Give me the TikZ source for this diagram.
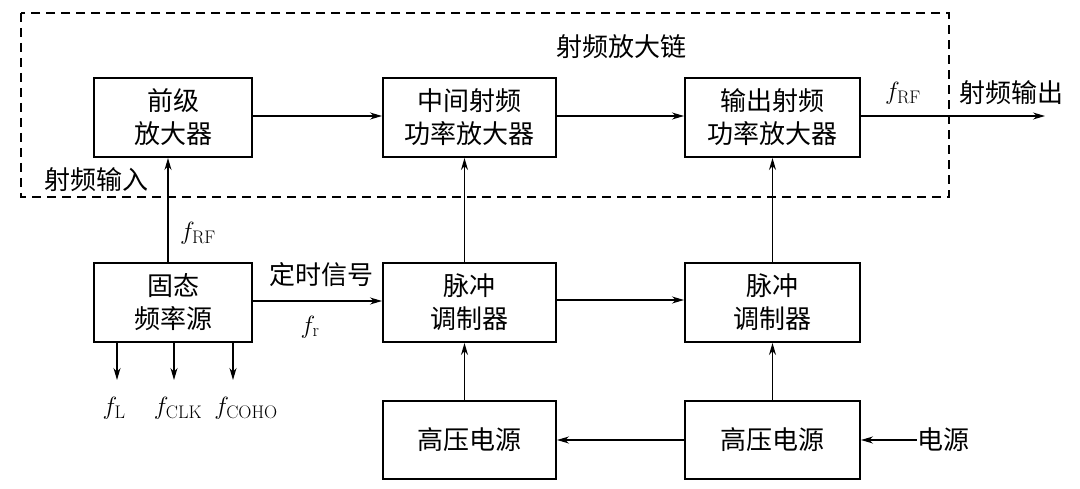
\documentclass[tikz,border=0pt]{standalone}
\usepackage{fontspec}
\newfontfamily\cjk{Noto Sans CJK SC}
\usetikzlibrary{arrows.meta}
\tikzset{
  blk/.style={draw, line width=2pt, inner sep=0pt, align=center, minimum height=79pt,
    font=\cjk\fontsize{26}{33}\selectfont},
  conn/.style={line width=1.2pt, -{Stealth[length=12pt,width=7pt]}},
  lbl/.style={inner sep=0pt, font=\cjk\fontsize{26}{28}\selectfont},
  mlbl/.style={inner sep=0pt, font=\fontsize{26}{28}\selectfont},
  chain/.style={line width=1.1pt, dash pattern=on 9pt off 6pt}
}
\begin{document}
\begin{tikzpicture}[x=1pt,y=-1pt]
\useasboundingbox (0,0) rectangle (1080,489);
% dashed RF chain frame
\draw[chain] (21,13) rectangle (949,197);
% blocks
\node[blk, minimum width=158pt] (pre) at (173,117.5) {前级\\放大器};
\node[blk, minimum width=173pt] (mid) at (469.5,117.5) {中间射频\\功率放大器};
\node[blk, minimum width=175pt] (out) at (772.5,117.5) {输出射频\\功率放大器};
\node[blk, minimum width=158pt] (src) at (173,302.5) {固态\\频率源};
\node[blk, minimum width=173pt] (mod1) at (469.5,302.5) {脉冲\\调制器};
\node[blk, minimum width=175pt] (mod2) at (772.5,302.5) {脉冲\\调制器};
\node[blk, minimum width=173pt, minimum height=78pt] (hv1) at (469.5,440) {高压电源};
\node[blk, minimum width=175pt, minimum height=78pt] (hv2) at (772.5,440) {高压电源};
% labels
\node[lbl] (chainlbl) at (621,47) {射频放大链};
\node[lbl] (rfin) at (97,180) {射频输入};
\node[mlbl] (frf1) at (198,233) {$f_{\mathrm{RF}}$};
\node[lbl] (timing) at (321,275) {定时信号};
\node[mlbl] (fr) at (310,327) {$f_{\mathrm{r}}$};
\node[mlbl] (frf2) at (903,93) {$f_{\mathrm{RF}}$};
\node[lbl] (rfout) at (1011,93) {射频输出};
\node[lbl] (pwr) at (943,440) {电源};
\node[mlbl] (fl) at (114,408) {$f_{\mathrm{L}}$};
\node[mlbl] (fclk) at (178,408) {$f_{\mathrm{CLK}}$};
\node[mlbl] (fcoho) at (246,408) {$f_{\mathrm{COHO}}$};
\coordinate (rfend) at (1045,116);
\coordinate (dl) at (117,380);
\coordinate (dc) at (174,380);
\coordinate (dh) at (233,380);
% connectors
\draw[conn] (pre.east |- 0,116) -- (mid.west |- 0,116);
\draw[conn] (mid.east |- 0,116) -- (out.west |- 0,116);
\draw[conn] (out.east |- 0,116) -- (rfend);
\draw[conn] ([xshift=-5pt]src.north) -- ([xshift=-5pt]pre.south);
\draw[conn] (src.east |- 0,301) -- (mod1.west |- 0,301);
\draw[conn] (mod1.east |- 0,300) -- (mod2.west |- 0,300);
\draw[conn] ([xshift=-5pt]mod1.north) -- ([xshift=-5pt]mid.south);
\draw[conn] (mod2.north) -- (out.south);
\draw[conn] ([xshift=-5pt]hv1.north) -- ([xshift=-5pt]mod1.south);
\draw[conn] (hv2.north) -- (mod2.south);
\draw[conn] (hv2.west) -- (hv1.east);
\draw[conn] (pwr.west) -- (hv2.east);
\draw[conn] (src.south -| dl) -- (dl);
\draw[conn] (src.south -| dc) -- (dc);
\draw[conn] (src.south -| dh) -- (dh);
\end{tikzpicture}
\end{document}
